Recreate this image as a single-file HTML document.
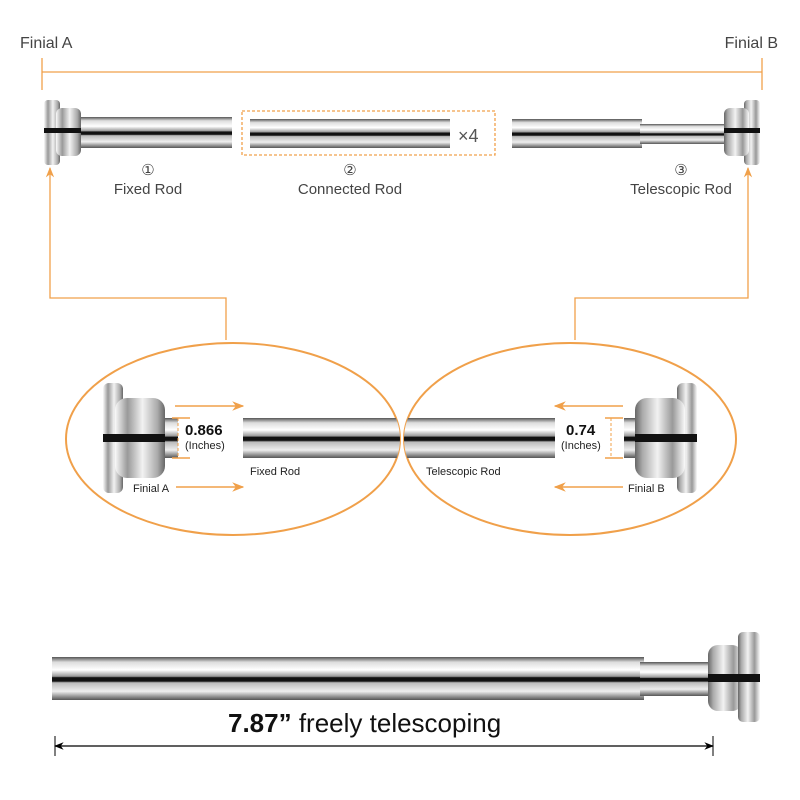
<!DOCTYPE html>
<html><head><style>body{margin:0;background:#fff}svg{display:block}text{font-family:"Liberation Sans",sans-serif}</style></head><body>
<svg width="800" height="800" viewBox="0 0 800 800" xmlns="http://www.w3.org/2000/svg">
<defs>
<linearGradient id="r" x1="0" y1="0" x2="0" y2="1">
<stop offset="0" stop-color="#555"/><stop offset="0.12" stop-color="#ddd"/><stop offset="0.3" stop-color="#fff"/><stop offset="0.45" stop-color="#999"/><stop offset="0.48" stop-color="#111"/><stop offset="0.56" stop-color="#111"/><stop offset="0.6" stop-color="#bbb"/><stop offset="0.8" stop-color="#eee"/><stop offset="1" stop-color="#555"/>
</linearGradient>
<linearGradient id="f" x1="0" y1="0" x2="1" y2="0">
<stop offset="0" stop-color="#fafafa"/><stop offset="0.25" stop-color="#999"/><stop offset="0.55" stop-color="#f2f2f2"/><stop offset="0.85" stop-color="#aaa"/><stop offset="1" stop-color="#666"/>
</linearGradient>
<linearGradient id="fr" x1="1" y1="0" x2="0" y2="0">
<stop offset="0" stop-color="#fafafa"/><stop offset="0.25" stop-color="#999"/><stop offset="0.55" stop-color="#f2f2f2"/><stop offset="0.85" stop-color="#aaa"/><stop offset="1" stop-color="#666"/>
</linearGradient>
<clipPath id="cl"><ellipse cx="233" cy="439" rx="167" ry="96"/></clipPath>
<clipPath id="cr"><ellipse cx="570" cy="439" rx="166" ry="96"/></clipPath>
<marker id="a" viewBox="0 0 10 10" refX="9" refY="5" markerWidth="8" markerHeight="8" orient="auto-start-reverse"><path d="M0,1 L10,5 L0,9 L3,5z" fill="#f0a04a"/></marker>
<marker id="k" viewBox="0 0 10 10" refX="9" refY="5" markerWidth="8" markerHeight="8" orient="auto-start-reverse"><path d="M0,1 L10,5 L0,9 L3,5z" fill="#000"/></marker>
</defs>
<g fill="#444" font-size="16">
<text x="20" y="48">Finial A</text><text x="778" y="48" text-anchor="end">Finial B</text>
</g>
<g stroke="#f0a04a" stroke-width="1.3" fill="none">
<line x1="42" y1="72" x2="762" y2="72"/><line x1="42" y1="58" x2="42" y2="90"/><line x1="762" y1="58" x2="762" y2="90"/>
<polyline points="226,340 226,298 50,298 50,168" marker-end="url(#a)"/>
<polyline points="575,340 575,298 748,298 748,168" marker-end="url(#a)"/>
<rect x="242" y="111" width="253" height="44" stroke-dasharray="3,2"/>
<ellipse cx="233" cy="439" rx="167" ry="96" stroke-width="2"/>
<ellipse cx="570" cy="439" rx="166" ry="96" stroke-width="2"/>
</g>
<rect x="78" y="117" width="154" height="31" fill="url(#r)"/>
<rect x="44" y="100" width="16" height="65" rx="4" fill="url(#f)"/><rect x="56" y="108" width="25" height="48" rx="6" fill="url(#f)"/>
<rect x="44" y="128" width="37" height="5" fill="#111"/>
<rect x="250" y="119" width="200" height="29" fill="url(#r)"/>
<text x="458" y="142" font-size="18" fill="#555">×4</text>
<rect x="512" y="119" width="130" height="29" fill="url(#r)"/><rect x="640" y="124" width="86" height="20" fill="url(#r)"/>
<rect x="744" y="100" width="16" height="65" rx="4" fill="url(#fr)"/><rect x="724" y="108" width="25" height="48" rx="6" fill="url(#fr)"/>
<rect x="724" y="128" width="36" height="5" fill="#111"/>
<g fill="#444" font-size="15" text-anchor="middle">
<text x="148" y="175">①</text><text x="148" y="194">Fixed Rod</text>
<text x="350" y="175">②</text><text x="350" y="194">Connected Rod</text>
<text x="681" y="175">③</text><text x="681" y="194">Telescopic Rod</text>
</g>
<g clip-path="url(#cl)">
<rect x="243" y="418" width="160" height="40" fill="url(#r)"/>
<rect x="160" y="418" width="18" height="40" fill="url(#r)"/>
<rect x="103" y="383" width="20" height="110" rx="6" fill="url(#f)"/><rect x="115" y="398" width="50" height="80" rx="12" fill="url(#f)"/>
<rect x="103" y="434" width="62" height="8" fill="#111"/>
</g>
<g clip-path="url(#cr)">
<rect x="400" y="418" width="155" height="40" fill="url(#r)"/>
<rect x="624" y="418" width="14" height="40" fill="url(#r)"/>
<rect x="677" y="383" width="20" height="110" rx="6" fill="url(#fr)"/><rect x="635" y="398" width="50" height="80" rx="12" fill="url(#fr)"/>
<rect x="635" y="434" width="62" height="8" fill="#111"/>
</g>
<g stroke="#f0a04a" stroke-width="1.5" fill="none">
<line x1="175" y1="406" x2="243" y2="406" marker-end="url(#a)"/>
<line x1="176" y1="487" x2="243" y2="487" marker-end="url(#a)"/>
<line x1="623" y1="406" x2="555" y2="406" marker-end="url(#a)"/>
<line x1="623" y1="487" x2="555" y2="487" marker-end="url(#a)"/>
<g stroke-dasharray="3,2" stroke-width="1"><line x1="178" y1="418" x2="178" y2="458"/><line x1="611" y1="418" x2="611" y2="458"/></g>
<line x1="172" y1="418" x2="190" y2="418"/><line x1="172" y1="458" x2="190" y2="458"/>
<line x1="605" y1="418" x2="623" y2="418"/><line x1="605" y1="458" x2="623" y2="458"/>
</g>
<g font-size="11" fill="#222">
<text x="133" y="492">Finial A</text><text x="250" y="475">Fixed Rod</text>
<text x="426" y="475">Telescopic Rod</text><text x="628" y="492">Finial B</text>
<text x="185" y="449">(Inches)</text><text x="561" y="449">(Inches)</text>
</g>
<g font-size="15" font-weight="bold" fill="#111"><text x="185" y="435">0.866</text><text x="566" y="435">0.74</text></g>
<rect x="52" y="657" width="592" height="43" fill="url(#r)"/><rect x="640" y="662" width="72" height="34" fill="url(#r)"/>
<rect x="708" y="645" width="34" height="66" rx="10" fill="url(#fr)"/><rect x="738" y="632" width="22" height="90" rx="5" fill="url(#fr)"/>
<rect x="708" y="674" width="52" height="8" fill="#111"/>
<line x1="55" y1="746" x2="713" y2="746" stroke="#000" stroke-width="1.2" marker-start="url(#k)" marker-end="url(#k)"/>
<line x1="55" y1="736" x2="55" y2="756" stroke="#000"/><line x1="713" y1="736" x2="713" y2="756" stroke="#000"/>
<text x="228" y="732" font-size="26" fill="#111"><tspan font-weight="bold">7.87”</tspan>  freely telescoping</text>
</svg>
</body></html>
